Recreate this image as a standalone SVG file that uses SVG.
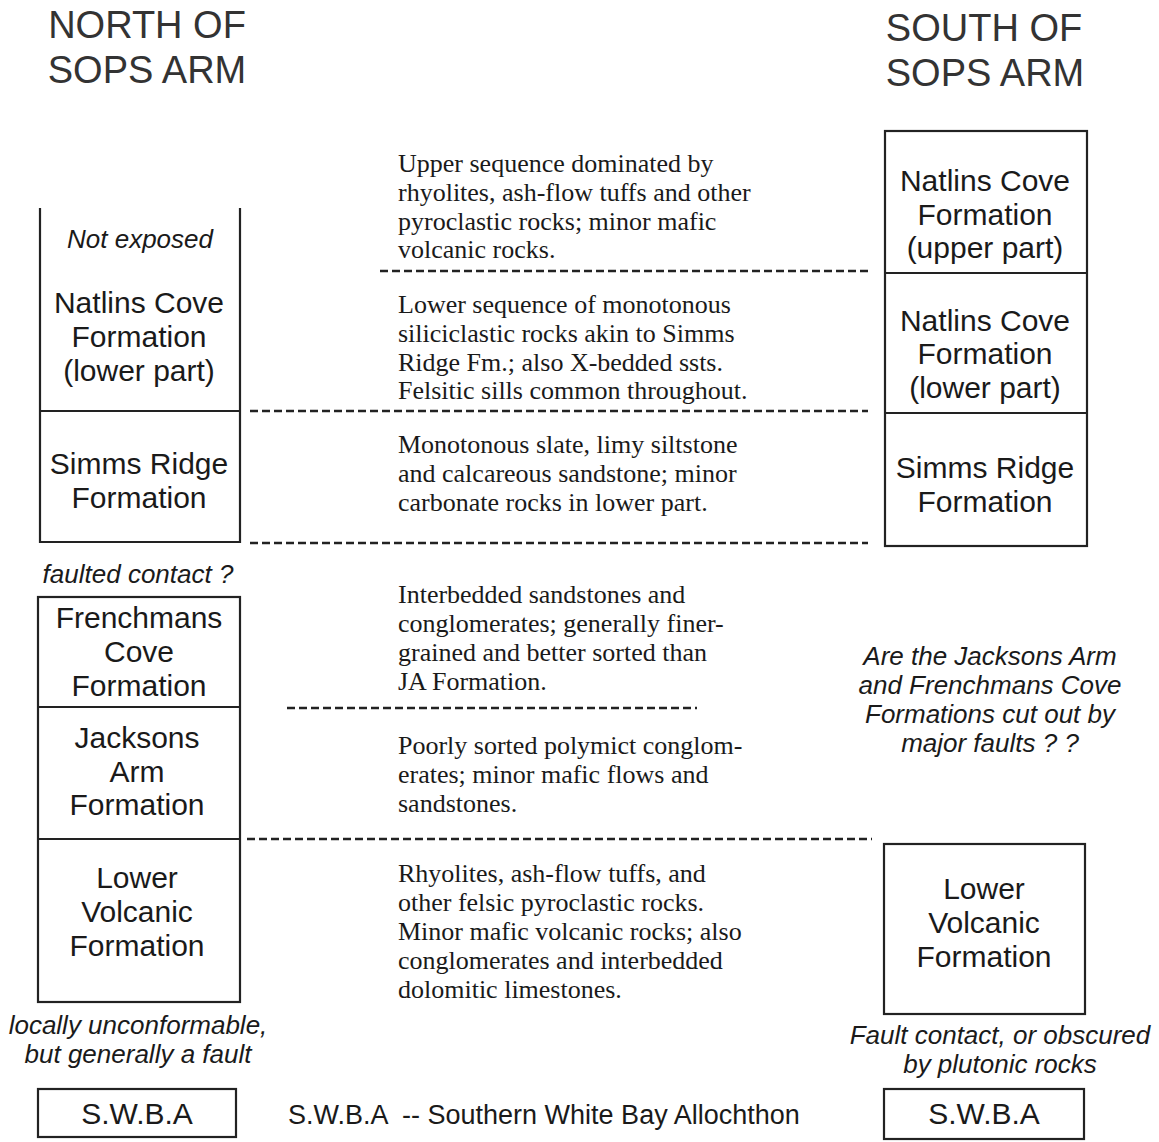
<svg xmlns="http://www.w3.org/2000/svg" width="1159" height="1142" viewBox="0 0 1159 1142">
<style>
.bg{fill:#fff}
.box{fill:none;stroke:#222;stroke-width:2.2}
.ln{stroke:#222;stroke-width:2.2;fill:none}
.dash{stroke:#222;stroke-width:2.4;stroke-dasharray:8 4;fill:none}
.hd{font-family:"Liberation Sans",Arial,sans-serif;font-size:38px;fill:#333;text-anchor:middle}
.lb{font-family:"Liberation Sans",Arial,sans-serif;font-size:30px;fill:#1a1a1a;text-anchor:middle}
.it{font-family:"Liberation Sans",Arial,sans-serif;font-size:26px;font-style:italic;fill:#1a1a1a;text-anchor:middle}
.ds{font-family:"Liberation Serif","Times New Roman",serif;font-size:26px;fill:#1a1a1a}
.lg{font-family:"Liberation Sans",Arial,sans-serif;font-size:27px;fill:#1a1a1a}
</style>
<rect class="bg" width="1159" height="1142"/>

<g id="headers">
<text class="hd" x="147" y="38">NORTH OF</text>
<text class="hd" x="147" y="83">SOPS ARM</text>
<text class="hd" x="984" y="41">SOUTH OF</text>
<text class="hd" x="985" y="86">SOPS ARM</text>
</g>

<g id="connectors">
<line class="dash" x1="380" y1="271" x2="868" y2="271"/>
<line class="dash" x1="250" y1="411" x2="868" y2="411"/>
<line class="dash" x1="250" y1="543" x2="868" y2="543"/>
<line class="dash" x1="287" y1="708" x2="697" y2="708"/>
<line class="dash" x1="247" y1="839" x2="872" y2="839"/>
</g>

<g id="north-upper">
<path class="ln" d="M40 208 V542 H240 V208"/>
<line class="ln" x1="40" y1="411" x2="240" y2="411"/>
<text class="it" x="140" y="248">Not exposed</text>
<g id="north-natlins-lower">
<text class="lb" x="139" y="313">Natlins Cove</text>
<text class="lb" x="139" y="347">Formation</text>
<text class="lb" x="139" y="381">(lower part)</text>
</g>
<g id="north-simms">
<text class="lb" x="139" y="474">Simms Ridge</text>
<text class="lb" x="139" y="508">Formation</text>
</g>
</g>

<text class="it" x="138" y="583">faulted contact ?</text>

<g id="north-lower">
<rect class="box" x="38" y="597" width="202" height="405"/>
<line class="ln" x1="38" y1="707" x2="240" y2="707"/>
<line class="ln" x1="38" y1="839" x2="240" y2="839"/>
<g id="north-frenchmans">
<text class="lb" x="139" y="628">Frenchmans</text>
<text class="lb" x="139" y="662">Cove</text>
<text class="lb" x="139" y="696">Formation</text>
</g>
<g id="north-jacksons">
<text class="lb" x="137" y="748">Jacksons</text>
<text class="lb" x="137" y="782">Arm</text>
<text class="lb" x="137" y="815">Formation</text>
</g>
<g id="north-lowervolc">
<text class="lb" x="137" y="888">Lower</text>
<text class="lb" x="137" y="922">Volcanic</text>
<text class="lb" x="137" y="956">Formation</text>
</g>
</g>

<text class="it" x="138" y="1034">locally unconformable,</text>
<text class="it" x="138" y="1063">but generally a fault</text>

<g id="north-swba">
<rect class="box" x="38" y="1089" width="198" height="48"/>
<text class="lb" x="137" y="1124">S.W.B.A</text>
</g>

<g id="south-upper">
<rect class="box" x="885" y="131" width="202" height="415"/>
<line class="ln" x1="885" y1="273" x2="1087" y2="273"/>
<line class="ln" x1="885" y1="413" x2="1087" y2="413"/>
<g id="south-natlins-upper">
<text class="lb" x="985" y="191">Natlins Cove</text>
<text class="lb" x="985" y="225">Formation</text>
<text class="lb" x="985" y="258">(upper part)</text>
</g>
<g id="south-natlins-lower">
<text class="lb" x="985" y="331">Natlins Cove</text>
<text class="lb" x="985" y="364">Formation</text>
<text class="lb" x="985" y="398">(lower part)</text>
</g>
<g id="south-simms">
<text class="lb" x="985" y="478">Simms Ridge</text>
<text class="lb" x="985" y="512">Formation</text>
</g>
</g>

<g id="south-question">
<text class="it" x="990" y="665">Are the Jacksons Arm</text>
<text class="it" x="990" y="694">and Frenchmans Cove</text>
<text class="it" x="990" y="723">Formations cut out by</text>
<text class="it" x="990" y="752">major faults ? ?</text>
</g>

<g id="south-lowervolc">
<rect class="box" x="884" y="844" width="201" height="170"/>
<text class="lb" x="984" y="899">Lower</text>
<text class="lb" x="984" y="933">Volcanic</text>
<text class="lb" x="984" y="967">Formation</text>
</g>

<text class="it" x="1000" y="1044">Fault contact, or obscured</text>
<text class="it" x="1000" y="1073">by plutonic rocks</text>

<g id="south-swba">
<rect class="box" x="884" y="1089" width="200" height="50"/>
<text class="lb" x="984" y="1124">S.W.B.A</text>
</g>

<g id="descriptions">
<text class="ds" x="398" y="172">Upper sequence dominated by</text>
<text class="ds" x="398" y="201">rhyolites, ash-flow tuffs and other</text>
<text class="ds" x="398" y="230">pyroclastic rocks; minor mafic</text>
<text class="ds" x="398" y="258">volcanic rocks.</text>

<text class="ds" x="398" y="313">Lower sequence of monotonous</text>
<text class="ds" x="398" y="342">siliciclastic rocks akin to Simms</text>
<text class="ds" x="398" y="371">Ridge Fm.; also X-bedded ssts.</text>
<text class="ds" x="398" y="399">Felsitic sills common throughout.</text>

<text class="ds" x="398" y="453">Monotonous slate, limy siltstone</text>
<text class="ds" x="398" y="482">and calcareous sandstone; minor</text>
<text class="ds" x="398" y="511">carbonate rocks in lower part.</text>

<text class="ds" x="398" y="603">Interbedded sandstones and</text>
<text class="ds" x="398" y="632">conglomerates; generally finer-</text>
<text class="ds" x="398" y="661">grained and better sorted than</text>
<text class="ds" x="398" y="690">JA Formation.</text>

<text class="ds" x="398" y="754">Poorly sorted polymict conglom-</text>
<text class="ds" x="398" y="783">erates; minor mafic flows and</text>
<text class="ds" x="398" y="812">sandstones.</text>

<text class="ds" x="398" y="882">Rhyolites, ash-flow tuffs, and</text>
<text class="ds" x="398" y="911">other felsic pyroclastic rocks.</text>
<text class="ds" x="398" y="940">Minor mafic volcanic rocks; also</text>
<text class="ds" x="398" y="969">conglomerates and interbedded</text>
<text class="ds" x="398" y="998">dolomitic limestones.</text>
</g>

<text class="lg" x="288" y="1124" xml:space="preserve">S.W.B.A  -- Southern White Bay Allochthon</text>
</svg>
